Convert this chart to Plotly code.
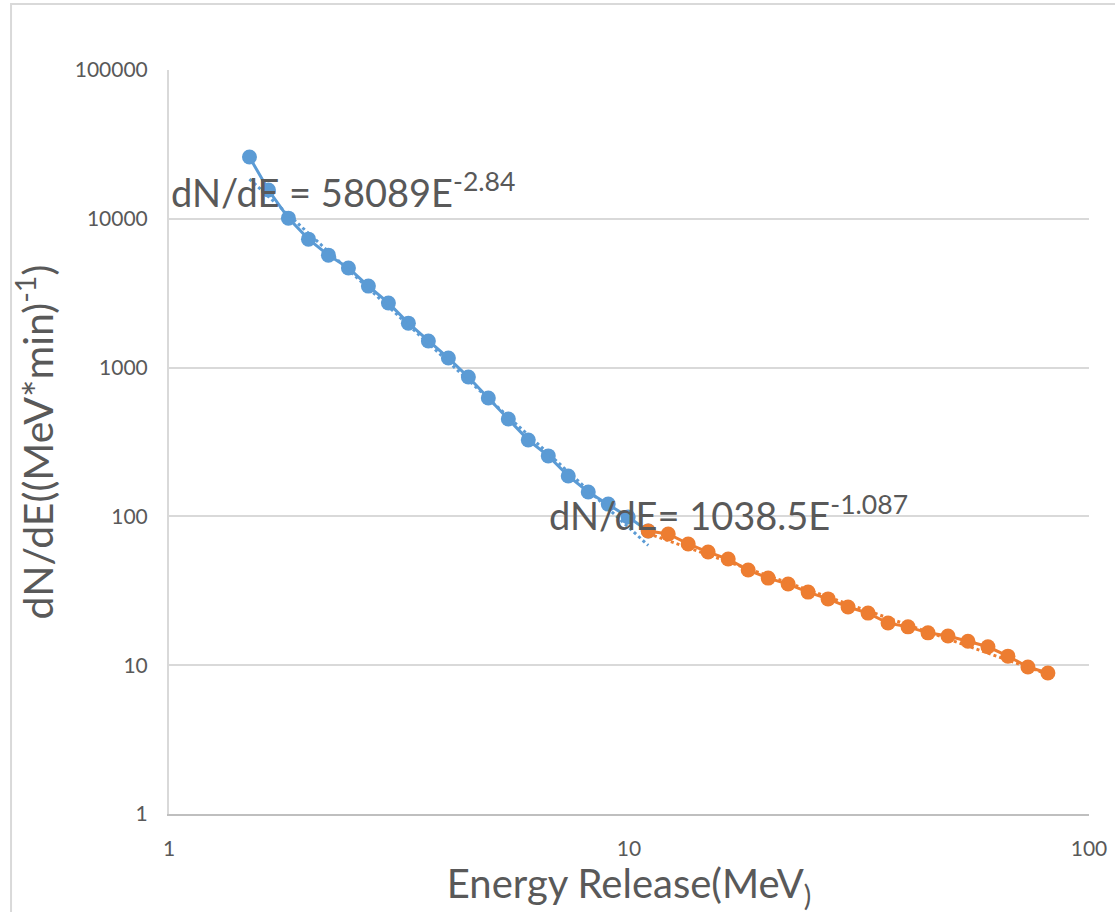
import numpy as np
import plotly.graph_objects as go

# Blue series (low energy)
energy_low = [1.496, 1.645, 1.818, 2.010, 2.221, 2.455, 2.713, 2.999, 3.314, 3.663,
              4.049, 4.475, 4.945, 5.466, 6.040, 6.676, 7.378, 8.155, 9.012, 9.96, 11.01]
rate_low = [26000, 15600, 10100, 7300, 5700, 4670, 3530, 2720, 1990, 1510,
            1160, 864, 625, 451, 326, 255, 187, 146, 121, 99, 79.8]

# Orange series (high energy)
energy_high = [11.01, 12.17, 13.45, 14.86, 16.43, 18.16, 20.07, 22.18, 24.51, 27.09,
               29.94, 33.09, 36.57, 40.42, 44.67, 49.37, 54.56, 60.30, 66.64, 73.66, 81.41]
rate_high = [79.8, 76.2, 65.3, 57.6, 51.7, 43.6, 38.5, 35.1, 31.0, 27.9,
             24.6, 22.4, 19.2, 18.1, 16.5, 15.7, 14.5, 13.3, 11.5, 9.72, 8.87]

# Trendline coefficients as shown on the chart
fit_low = (58089, -2.84)
fit_high = (1038.5, -1.087)

y_ticks = [1, 10, 100, 1000, 10000, 100000]
x_ticks = [1, 10, 100]

BLUE = "#5B9BD5"
ORANGE = "#ED7D31"
TXT = "#595959"
FONT = "Lato"


def trend(xs, coef):
    xs = np.geomspace(min(xs), max(xs), 60)
    return xs, coef[0] * xs ** coef[1]


fig = go.Figure()

tx, ty = trend(energy_low, fit_low)
fig.add_trace(go.Scatter(x=energy_low, y=rate_low, mode="lines+markers",
                         line=dict(color=BLUE, width=3),
                         marker=dict(color=BLUE, size=15), showlegend=False))
fig.add_trace(go.Scatter(x=tx, y=ty, mode="lines",
                         line=dict(color=BLUE, width=3, dash="dot"), showlegend=False))

tx2, ty2 = trend(energy_high, fit_high)
fig.add_trace(go.Scatter(x=energy_high, y=rate_high, mode="lines+markers",
                         line=dict(color=ORANGE, width=3),
                         marker=dict(color=ORANGE, size=15), showlegend=False))
fig.add_trace(go.Scatter(x=tx2, y=ty2, mode="lines",
                         line=dict(color=ORANGE, width=3, dash="dot"), showlegend=False))

fig.update_xaxes(type="log", range=[0, 2], tickvals=x_ticks,
                 ticktext=[str(v) for v in x_ticks],
                 showgrid=False, zeroline=False,
                 showline=True, linecolor="#BFBFBF", linewidth=2,
                 ticks="", ticklabelstandoff=15,
                 tickfont=dict(family=FONT, size=21, color=TXT),
                 title=dict(text="Energy Release(MeV<sub>)</sub>",
                            font=dict(family=FONT, size=40, color=TXT), standoff=20),
                 automargin=False)
fig.update_yaxes(type="log", range=[0, 5], tickvals=y_ticks,
                 ticktext=[str(v) for v in y_ticks],
                 showgrid=True, gridcolor="#D9D9D9", gridwidth=2, zeroline=False,
                 showline=True, linecolor="#D9D9D9", linewidth=2,
                 ticks="", ticklabelstandoff=15,
                 tickfont=dict(family=FONT, size=21, color=TXT),
                 title=dict(text="dN/dE((MeV*min)<sup>-1</sup>)",
                            font=dict(family=FONT, size=41, color=TXT), standoff=8),
                 automargin=False)

fig.add_annotation(xref="paper", yref="paper", x=0.0, y=0.839,
                   xanchor="left", yanchor="middle", showarrow=False,
                   text="dN/dE = 58089E<sup>-2.84</sup>",
                   font=dict(family=FONT, size=38, color=TXT))
fig.add_annotation(xref="paper", yref="paper", x=0.411, y=0.405,
                   xanchor="left", yanchor="middle", showarrow=False,
                   text="dN/dE= 1038.5E<sup>-1.087</sup>",
                   font=dict(family=FONT, size=38, color=TXT))

# outer chart border
fig.add_shape(type="rect", xref="paper", yref="paper",
              x0=-0.1717, x1=1.1, y0=-0.2, y1=1.0887,
              line=dict(color="#D9D9D9", width=2), layer="below")

fig.update_layout(width=1115, height=912,
                  margin=dict(l=169, r=26, t=70, b=98),
                  paper_bgcolor="white", plot_bgcolor="white")

fig.write_html("out.html", config={"displayModeBar": False},
               post_script="document.body.style.margin='0';document.body.style.overflow='hidden';")
